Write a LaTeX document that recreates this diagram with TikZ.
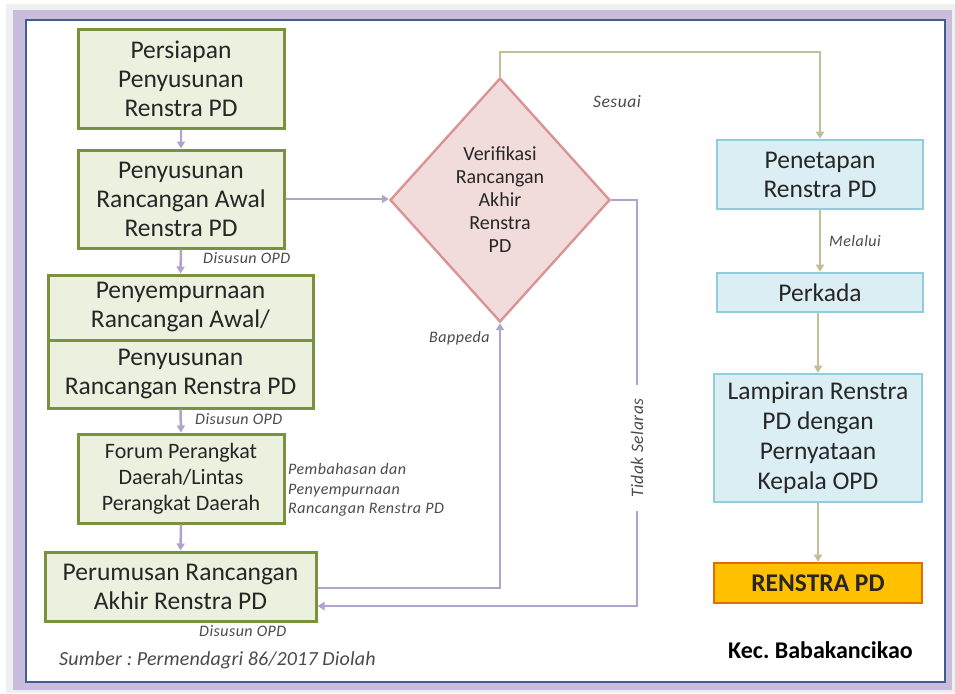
\documentclass[tikz,border=0pt]{standalone}
\usepackage{fontspec}
\setmainfont{Carlito}
\usetikzlibrary{shapes.geometric,arrows.meta}
\definecolor{gfill}{HTML}{EBF1DE}
\definecolor{gline}{HTML}{77933C}
\definecolor{bfill}{HTML}{DBEEF4}
\definecolor{bline}{HTML}{92CDDC}
\definecolor{pfill}{HTML}{F2DCDB}
\definecolor{pline}{HTML}{D99594}
\definecolor{purp}{HTML}{B3A2CC}
\definecolor{tan}{HTML}{C4BD97}
\definecolor{lav}{HTML}{C9BCDC}
\definecolor{navy}{HTML}{3D5E8F}
\definecolor{txt}{HTML}{262626}
\definecolor{lbl}{HTML}{4A4A4A}
\definecolor{oline}{HTML}{E36C09}
\definecolor{ofill}{HTML}{FFC000}
\newcommand{\labfont}[1]{\fontsize{#1}{19.5}\selectfont\itshape\addfontfeatures{LetterSpace=3}}
\tikzset{
  gbox/.style={draw=gline, fill=gfill, line width=3pt, inner sep=0pt, align=center,
    text=txt, font=\fontsize{25.5}{29}\selectfont},
  bbox/.style={draw=bline, fill=bfill, line width=2.6pt, inner sep=0pt, align=center,
    text=txt, font=\fontsize{25.5}{29}\selectfont},
  parrow/.style={draw=purp, line width=2.5pt, -{Triangle[length=7pt,width=8pt]}},
  tarrow/.style={draw=tan, line width=2.5pt, -{Triangle[length=7pt,width=8pt]}},
  lab/.style={text=lbl, font=\labfont{16}, inner sep=0pt},
}
\frenchspacing
\begin{document}
\begin{tikzpicture}[x=1pt,y=-1pt]
\useasboundingbox (0,0) rectangle (955,693);
\fill[white] (0,0) rectangle (955,693);
\fill[gray!12] (6,4) rectangle (955,693);
\fill[lav] (13,10) rectangle (952,690);
\draw[navy, line width=2.5pt, fill=white] (26,20) rectangle (945,682);

% left column
\node[gbox, minimum width=206pt, minimum height=98pt] (b1) at (181,79) {Persiapan\\Penyusunan\\Renstra PD};
\node[gbox, minimum width=206pt, minimum height=98pt] (b2) at (181,199) {Penyusunan\\Rancangan Awal\\Renstra PD};
\node[gbox, minimum width=265pt, minimum height=65pt] (b3a) at (180.5,307.5) {Penyempurnaan\\Rancangan Awal/};
\node[gbox, minimum width=265pt, minimum height=68pt] (b3b) at (180.5,374) {Penyusunan\\Rancangan Renstra PD};
\node[gbox, minimum width=206pt, minimum height=89pt, font=\fontsize{22}{26}\selectfont] (b4) at (181,478.5) {Forum Perangkat\\Daerah/Lintas\\Perangkat Daerah};
\node[gbox, minimum width=271pt, minimum height=69pt] (b5) at (180.5,586.5) {Perumusan Rancangan\\Akhir Renstra PD};

% diamond
\node[diamond, draw=pline, fill=pfill, line width=2.4pt, inner sep=0pt, minimum width=220pt, minimum height=244pt,
  align=center, text=txt, font=\fontsize{20}{23}\selectfont] (dia) at (500,200) {Verifikasi\\Rancangan\\Akhir\\Renstra\\PD};

% right column
\node[bbox, minimum width=206pt, minimum height=69pt] (r1) at (820,174.5) {Penetapan\\Renstra PD};
\node[bbox, minimum width=206pt, minimum height=39pt] (r2) at (820,292.5) {Perkada};
\node[bbox, minimum width=208pt, minimum height=128pt, font=\fontsize{25.5}{30}\selectfont] (r3) at (818,438) {Lampiran Renstra\\PD dengan\\Pernyataan\\Kepala OPD};
\node[draw=oline, fill=ofill, line width=2.6pt, inner sep=0pt, minimum width=208pt, minimum height=40pt,
  font=\fontsize{25.5}{28}\selectfont\bfseries, text=txt] (r4) at (818,583) {RENSTRA PD};

% left arrows
\draw[parrow] (b1.south) -- (b2.north);
\draw[parrow] (b2.south) -- (b3a.north);
\draw[parrow] (b3b.south) -- (b4.north);
\draw[parrow] (b4.south) -- (b5.north);
\draw[parrow] (b2.east) -- (b2.east -| dia.west);
\draw[parrow] ([yshift=-1.5pt]b5.east) -| (dia.south);
\coordinate (tsR) at (637,200);
\draw[parrow] (dia.east) -- (tsR) |- ([yshift=-19.5pt]b5.east);

% right arrows
\coordinate (topL) at (500,52);
\draw[tarrow] (dia.north) -- (topL) -| (r1.north);
\draw[tarrow] (r1.south) -- (r2.north);
\draw[tarrow] (r2.south -| r3.north) -- (r3.north);
\draw[tarrow] (r3.south) -- (r4.north);

% labels
\node[lab, anchor=west] (l1) at (203,258) {Disusun OPD};
\node[lab, anchor=west] (l2) at (195,419) {Disusun OPD};
\node[lab, anchor=west] (l3) at (199,631) {Disusun OPD};
\node[lab, anchor=west, align=left] (l4) at (288,490) {Pembahasan dan\\Penyempurnaan\\Rancangan Renstra PD};
\node[lab, anchor=west] (l5) at (429,338) {Bappeda};
\node[lab, font=\labfont{17.5}] (l6) at (617,102) {Sesuai};
\node[lab] (l7) at (855,241) {Melalui};
\node[lab, rotate=90, fill=white, inner xsep=13pt, inner ysep=3pt, font=\labfont{17.5}] (l8) at (637,448) {Tidak Selaras};
\node[lab, anchor=west, font=\fontsize{20}{24}\selectfont\itshape\addfontfeatures{LetterSpace=1}] (src) at (59,660) {Sumber : Permendagri 86/2017 Diolah};
\node[anchor=west, inner sep=0pt, font=\fontsize{24}{28}\selectfont\bfseries] (kec) at (728,650) {Kec. Babakancikao};
\end{tikzpicture}
\end{document}
